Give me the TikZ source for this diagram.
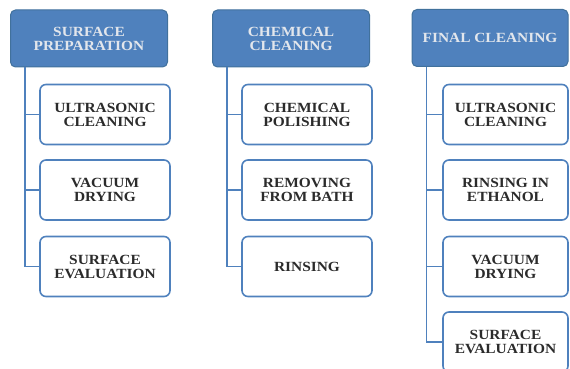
\documentclass[tikz,border=0pt]{standalone}
\usepackage{fontspec}
\setmainfont{Liberation Serif}[FakeStretch=1.1,UprightFont=*-Bold]
\definecolor{hdblue}{HTML}{4F81BD}
\definecolor{hdedge}{HTML}{41719C}
\definecolor{hdtext}{HTML}{E2E6EC}
\definecolor{txtgray}{HTML}{2B2B2B}

\begin{document}
\begin{tikzpicture}[x=1pt, y=-1pt,
  every node/.style={font=\fontsize{14}{14}\selectfont, align=center},
  head/.style={draw=hdedge, fill=hdblue, text=hdtext, rounded corners=5pt,
    line width=1pt, minimum width=157pt, minimum height=57pt, inner sep=0pt},
  task/.style={draw=hdblue, fill=white, text=txtgray, rounded corners=6pt,
    line width=1.6pt, minimum width=#1, minimum height=60pt, inner sep=0pt},
  task/.default=130pt,
  link/.style={draw=hdblue, line width=1.8pt}]
  \useasboundingbox (0,0) rectangle (570,369);
  \clip (0,0) rectangle (570,369);

  % headers
  \node[head] (H1) at (89,38.5) {SURFACE\\PREPARATION};
  \node[head] (H2) at (291,38.5) {CHEMICAL\\CLEANING};
  \node[head, minimum width=156pt] (H3) at (490,38) {FINAL CLEANING};

  % steps
  \foreach \n/\y/\txt in {1/114.5/{ULTRASONIC\\CLEANING}, 2/190/{VACUUM\\DRYING},
      3/266.5/{SURFACE\\EVALUATION}}
    \node[task] (A\n) at (105,\y) {\txt};
  \foreach \n/\y/\txt in {1/114.5/{CHEMICAL\\POLISHING}, 2/190/{REMOVING\\FROM BATH},
      3/266.5/{RINSING}}
    \node[task] (B\n) at (307,\y) {\txt};
  \foreach \n/\y/\txt in {1/114.5/{ULTRASONIC\\CLEANING}, 2/190/{RINSING IN\\ETHANOL},
      3/266.5/{VACUUM\\DRYING}, 4/342/{SURFACE\\EVALUATION}}
    \node[task=125pt] (C\n) at (505.5,\y) {\txt};

  % links
  \foreach \h/\c/\k in {H1/A/3, H2/B/3, H3/C/4}
    \foreach \i in {1,...,\k}
      \draw[link] ([xshift=15pt]\h.south west) |- (\c\i.west);
\end{tikzpicture}
\end{document}
